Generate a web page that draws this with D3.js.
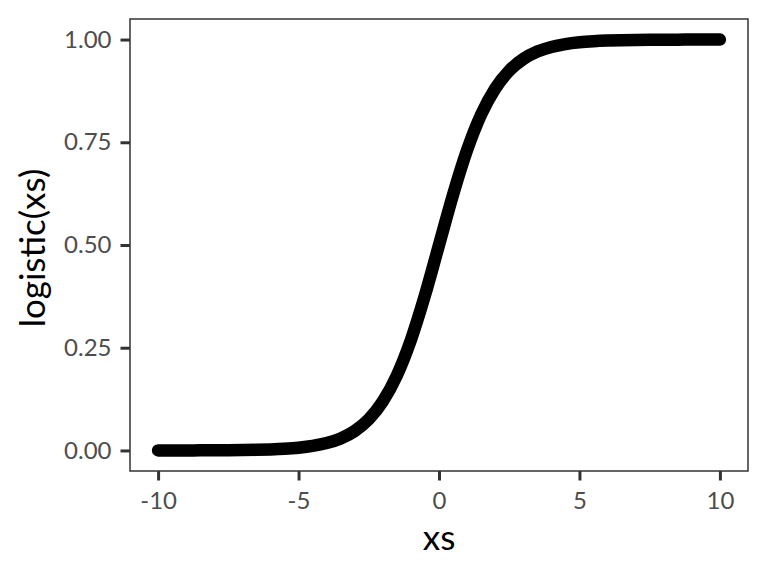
<!DOCTYPE html>
<html><head><meta charset="utf-8">
<script src="https://cdn.jsdelivr.net/npm/d3@7"></script>
<style>body{margin:0;background:#fff}</style>
</head><body>
<svg id="c" width="768" height="576"></svg>
<script>
const xs = [-10,-9.5,-9,-8.5,-8,-7.5,-7,-6.5,-6,-5.5,-5,-4.5,-4,-3.5,-3,-2.5,-2,-1.5,-1,-0.5,0,0.5,1,1.5,2,2.5,3,3.5,4,4.5,5,5.5,6,6.5,7,7.5,8,8.5,9,9.5,10];
const ys = [0.0000454,0.0000749,0.000123,0.000203,0.000335,0.000553,0.000911,0.001501,0.002473,0.004070,0.006693,0.010987,0.017986,0.029312,0.047426,0.075858,0.119203,0.182426,0.268941,0.377541,0.5,0.622459,0.731059,0.817574,0.880797,0.924142,0.952574,0.970688,0.982014,0.989013,0.993307,0.995930,0.997527,0.998499,0.999089,0.999447,0.999665,0.999797,0.999877,0.999925,0.999955];
const xTicks = [-10,-5,0,5,10];
const xTickLabels = ["-10","-5","0","5","10"];
const yTicks = [0,0.25,0.5,0.75,1];
const yTickLabels = ["0.00","0.25","0.50","0.75","1.00"];

const svg = d3.select("#c");
const L=130, R=748, T=19, B=471;
const x = d3.scaleLinear().domain([-11,11]).range([L,R]);
const y = d3.scaleLinear().domain([-0.05,1.05]).range([B,T]);
const font = "Lato, 'Open Sans', sans-serif";

const data = xs.map((v,i)=>({x:v,y:ys[i]}));
svg.append("path").datum(data)
  .attr("d", d3.line().x(d=>x(d.x)).y(d=>y(d.y)).curve(d3.curveMonotoneX))
  .attr("fill","none").attr("stroke","#000").attr("stroke-width",12.5)
  .attr("stroke-linecap","round").attr("stroke-linejoin","round");

svg.append("rect").attr("x",L).attr("y",T).attr("width",R-L).attr("height",B-T)
  .attr("fill","none").attr("stroke","#333").attr("stroke-width",1.5);

const xa = svg.append("g").attr("transform",`translate(0,${B})`)
  .call(d3.axisBottom(x).tickValues(xTicks).tickSize(9.5).tickPadding(11)
    .tickFormat((d,i)=>xTickLabels[i]));
const ya = svg.append("g").attr("transform",`translate(${L},0)`)
  .call(d3.axisLeft(y).tickValues(yTicks).tickSize(9.5).tickPadding(9)
    .tickFormat((d,i)=>yTickLabels[i]));
[xa,ya].forEach(a=>{
  a.select(".domain").remove();
  a.selectAll(".tick line").attr("stroke","#333").attr("stroke-width",3);
  a.selectAll(".tick text").attr("fill","#4d4d4d").style("font-family",font).style("font-size","24px");
});

svg.append("text").attr("x",(L+R)/2).attr("y",550).attr("text-anchor","middle")
  .style("font-family",font).style("font-size","35px").attr("fill","#000").text("xs");
svg.append("text").attr("transform",`translate(45,${(T+B)/2+3}) rotate(-90)`).attr("text-anchor","middle")
  .style("font-family",font).style("font-size","35px").attr("fill","#000").text("logistic(xs)");
</script>
</body></html>
